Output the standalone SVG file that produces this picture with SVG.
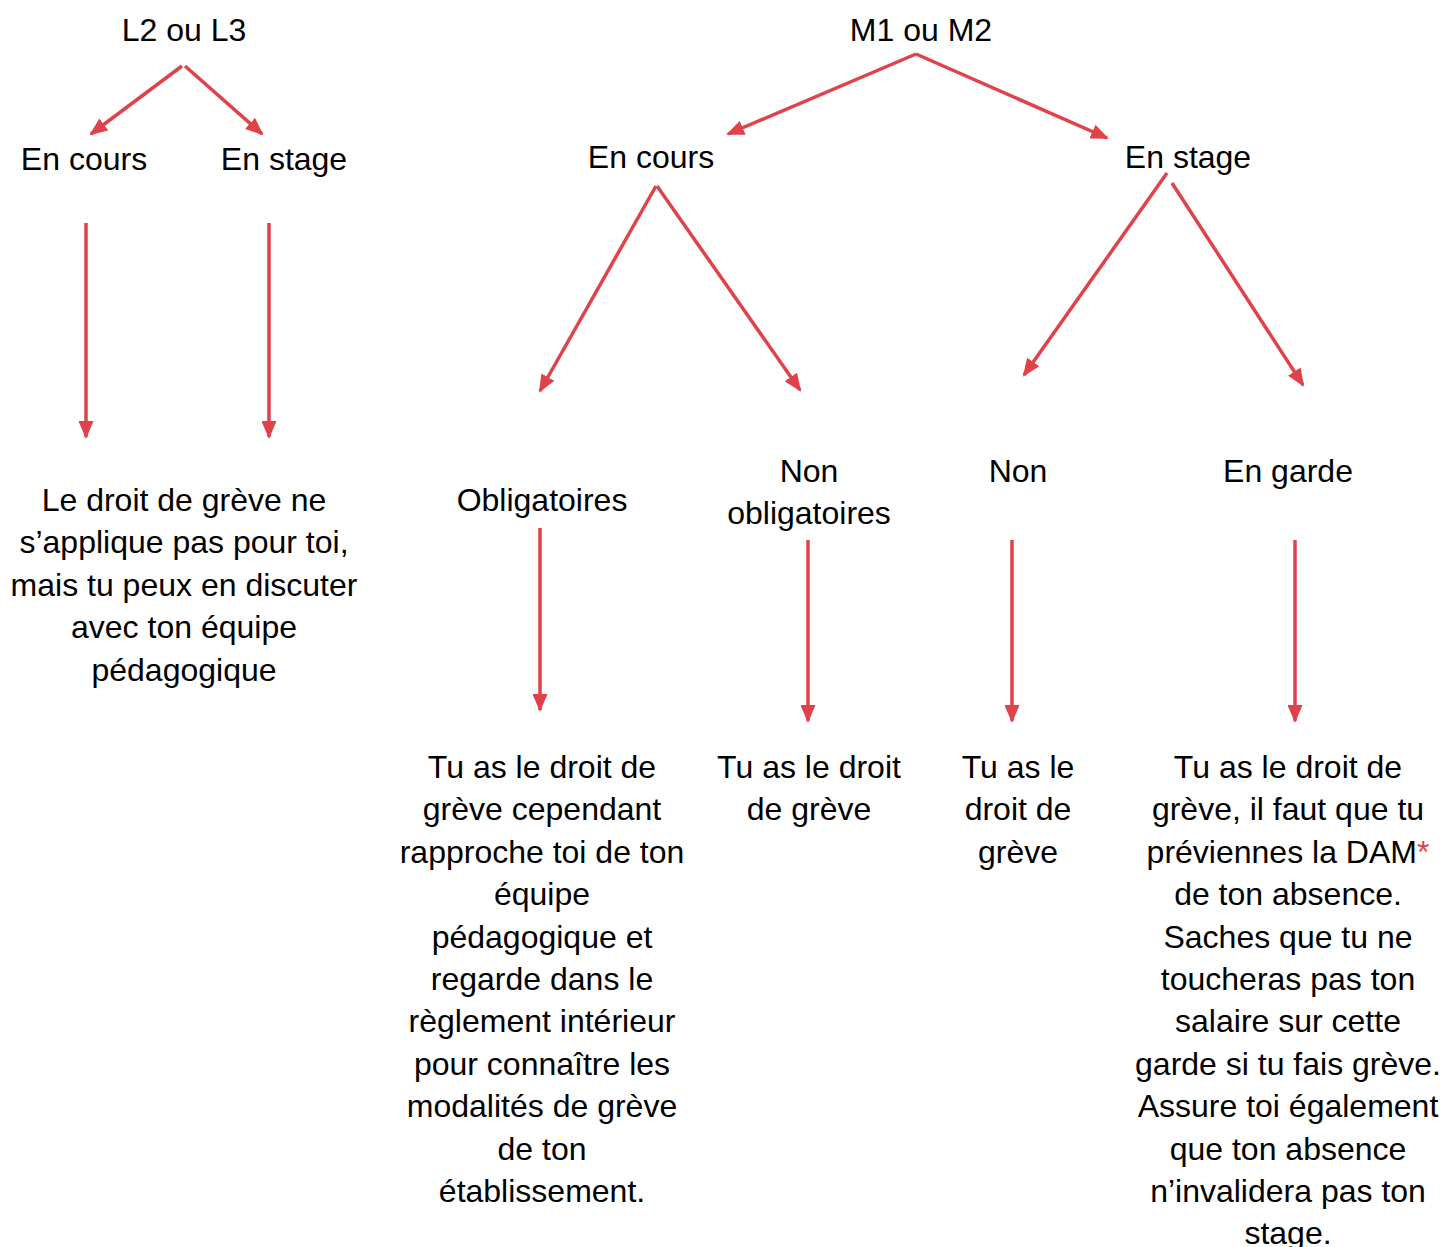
<svg xmlns="http://www.w3.org/2000/svg" width="1444" height="1247" viewBox="0 0 1444 1247">
<style>
text{font-family:"Liberation Sans",Arial,sans-serif;font-size:32px;fill:#000;text-anchor:middle}
.c line{stroke:#e0424a;stroke-width:3.5;fill:none}
.red{fill:#e0424a}
</style>
<defs>
<marker id="ah" markerUnits="userSpaceOnUse" markerWidth="18" markerHeight="15" refX="16" refY="7.5" orient="auto" viewBox="0 0 18 15">
<path d="M0,0 L18,7.5 L0,15 z" fill="#e0424a"/>
</marker>
</defs>
<rect width="1444" height="1247" fill="#fff"/>
<g class="c" id="connectors">
<line x1="182" y1="66" x2="91" y2="134" marker-end="url(#ah)"/>
<line x1="185" y1="66" x2="262" y2="134" marker-end="url(#ah)"/>
<line x1="916" y1="54" x2="728" y2="134" marker-end="url(#ah)"/>
<line x1="916" y1="54" x2="1107" y2="138" marker-end="url(#ah)"/>
<line x1="656" y1="186" x2="540" y2="391" marker-end="url(#ah)"/>
<line x1="657" y1="186" x2="800" y2="390" marker-end="url(#ah)"/>
<line x1="1167" y1="173" x2="1024" y2="375" marker-end="url(#ah)"/>
<line x1="1172" y1="183" x2="1303" y2="385" marker-end="url(#ah)"/>
<line x1="86" y1="223" x2="86" y2="437" marker-end="url(#ah)"/>
<line x1="269" y1="223" x2="269" y2="437" marker-end="url(#ah)"/>
<line x1="540" y1="528" x2="540" y2="710" marker-end="url(#ah)"/>
<line x1="808" y1="540" x2="808" y2="721" marker-end="url(#ah)"/>
<line x1="1012" y1="540" x2="1012" y2="721" marker-end="url(#ah)"/>
<line x1="1295" y1="540" x2="1295" y2="721" marker-end="url(#ah)"/>
</g>
<g id="n-l2"><text x="184" y="41">L2 ou L3</text></g>
<g id="n-m1"><text x="921" y="41">M1 ou M2</text></g>
<g id="n-l-cours"><text x="84" y="170">En cours</text></g>
<g id="n-l-stage"><text x="284" y="170">En stage</text></g>
<g id="n-m-cours"><text x="651" y="168">En cours</text></g>
<g id="n-m-stage"><text x="1188" y="168">En stage</text></g>
<g id="n-oblig"><text x="542" y="511">Obligatoires</text></g>
<g id="n-nonoblig"><text x="809" y="482">Non<tspan x="809" dy="42.4">obligatoires</tspan></text></g>
<g id="n-non"><text x="1018" y="482">Non</text></g>
<g id="n-garde"><text x="1288" y="482">En garde</text></g>
<g id="n-l-result"><text x="184" y="511">Le droit de grève ne<tspan x="184" dy="42.4">s’applique pas pour toi,</tspan><tspan x="184" dy="42.4">mais tu peux en discuter</tspan><tspan x="184" dy="42.4">avec ton équipe</tspan><tspan x="184" dy="42.4">pédagogique</tspan></text></g>
<g id="n-oblig-result"><text x="542" y="778">Tu as le droit de<tspan x="542" dy="42.4">grève cependant</tspan><tspan x="542" dy="42.4">rapproche toi de ton</tspan><tspan x="542" dy="42.4">équipe</tspan><tspan x="542" dy="42.4">pédagogique et</tspan><tspan x="542" dy="42.4">regarde dans le</tspan><tspan x="542" dy="42.4">règlement intérieur</tspan><tspan x="542" dy="42.4">pour connaître les</tspan><tspan x="542" dy="42.4">modalités de grève</tspan><tspan x="542" dy="42.4">de ton</tspan><tspan x="542" dy="42.4">établissement.</tspan></text></g>
<g id="n-nonoblig-result"><text x="809" y="778">Tu as le droit<tspan x="809" dy="42.4">de grève</tspan></text></g>
<g id="n-non-result"><text x="1018" y="778">Tu as le<tspan x="1018" dy="42.4">droit de</tspan><tspan x="1018" dy="42.4">grève</tspan></text></g>
<g id="n-garde-result"><text x="1288" y="778">Tu as le droit de<tspan x="1288" dy="42.4">grève, il faut que tu</tspan><tspan x="1288" dy="42.4">préviennes la DAM<tspan class="red">*</tspan></tspan><tspan x="1288" dy="42.4">de ton absence.</tspan><tspan x="1288" dy="42.4">Saches que tu ne</tspan><tspan x="1288" dy="42.4">toucheras pas ton</tspan><tspan x="1288" dy="42.4">salaire sur cette</tspan><tspan x="1288" dy="42.4">garde si tu fais grève.</tspan><tspan x="1288" dy="42.4">Assure toi également</tspan><tspan x="1288" dy="42.4">que ton absence</tspan><tspan x="1288" dy="42.4">n’invalidera pas ton</tspan><tspan x="1288" dy="42.4">stage.</tspan></text></g>
</svg>
